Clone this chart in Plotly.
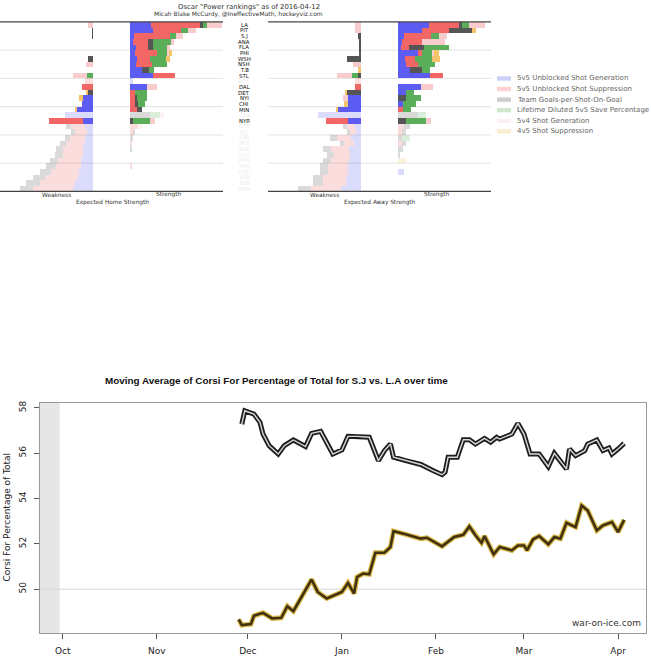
import plotly.graph_objects as go

W, H = 651, 659

def fx(px):
    return px / W

def fy(py):
    return 1 - py / H

# ---------------- top chart data ----------------
teams = ["LA", "PIT", "S.J", "ANA", "FLA", "PHI", "WSH", "NSH", "T.B", "STL",
         "BOS", "DAL", "DET", "NYI", "CHI", "MIN", "CAR", "NYR", "OTT", "N.J",
         "CBJ", "MTL", "BUF", "COL", "WPG", "ARI", "CGY", "VAN", "TOR", "EDM"]
in_playoffs = [1] * 10 + [0] + [1] * 5 + [0] + [1] + [0] * 12

components = ["5v5 Unblocked Shot Generation", "5v5 Unblocked Shot Suppression",
              "Team Goals-per-Shot-On-Goal", "Lifetime Diluted 5v5 Save Percentage",
              "5v4 Shot Generation", "4v5 Shot Suppression"]
comp_colors = ["#5c5cf2", "#f26666", "#555555", "#5aae5a", "#f8cccc", "#f5c36a"]

# Expected Home Strength -- strength side (per component, per team)
home_str_gen = [21, 23, 4, 3, 6, 5, 7, 6, 12, 23, 3, 17, 0, 0, 0, 0, 0, 0, 0, 0, 0, 0, 0, 0, 0, 0, 0, 0, 0, 0]
home_str_sup = [49, 28, 36, 15, 12, 22, 13, 16, 0, 22, 0, 0, 5, 5, 5, 7, 0, 0, 8, 3, 0, 2, 0, 0, 0, 2, 0, 0, 0, 0]
home_str_gps = [3, 0, 0, 5, 5, 0, 0, 0, 7, 0, 0, 0, 0, 2, 3, 5, 20, 3, 0, 2, 3, 0, 2, 0, 0, 0, 0, 0, 0, 0]
home_str_sv = [4, 7, 6, 18, 14, 10, 16, 15, 5, 0, 0, 0, 12, 10, 7, 0, 10, 17, 0, 0, 0, 0, 0, 0, 0, 0, 0, 0, 0, 0]
home_str_pp = [15, 8, 7, 3, 3, 2, 0, 0, 0, 0, 0, 10, 0, 0, 0, 0, 4, 5, 5, 0, 0, 0, 0, 0, 0, 0, 0, 0, 0, 0]
home_str_pk = [0, 0, 0, 0, 0, 3, 4, 0, 0, 0, 0, 0, 0, 0, 0, 0, 0, 0, 0, 0, 0, 0, 0, 0, 0, 0, 0, 0, 0, 0]

# Expected Home Strength -- weakness side
home_wk_gen = [0, 0, 0, 0, 0, 0, 0, 0, 0, 0, 0, 0, 0, 10, 11, 16, 28, 10, 8, 6, 8, 9, 10, 10, 12, 12, 14, 15, 18, 20]
home_wk_sup = [0, 0, 0, 0, 0, 0, 0, 0, 0, 0, 8, 11, 0, 0, 0, 0, 0, 34, 14, 12, 15, 18, 20, 20, 23, 25, 28, 33, 35, 40]
home_wk_gps = [0, 1, 1, 0, 0, 0, 5, 0, 0, 0, 0, 0, 5, 0, 0, 0, 0, 0, 5, 4, 5, 6, 7, 8, 8, 10, 11, 12, 14, 13]
home_wk_sv = [0, 0, 0, 0, 0, 0, 0, 0, 0, 6, 0, 0, 0, 0, 0, 0, 0, 0, 0, 0, 0, 0, 0, 0, 0, 0, 0, 0, 0, 0]
home_wk_pp = [5, 0, 0, 0, 0, 0, 0, 7, 0, 14, 0, 0, 0, 0, 0, 0, 0, 0, 0, 0, 0, 0, 0, 0, 0, 0, 0, 0, 0, 0]
home_wk_pk = [0, 0, 0, 0, 0, 0, 0, 0, 0, 0, 0, 0, 2, 4, 0, 2, 0, 0, 0, 0, 0, 0, 0, 0, 0, 0, 0, 0, 0, 0]

# Expected Away Strength -- strength side
away_str_gen = [31, 24, 6, 4, 3, 20, 7, 8, 12, 32, 0, 23, 8, 0, 5, 0, 0, 0, 0, 0, 0, 0, 0, 0, 0, 0, 6, 0, 0, 0]
away_str_sup = [30, 27, 27, 20, 8, 4, 10, 12, 0, 13, 0, 0, 0, 0, 0, 5, 0, 0, 6, 4, 0, 4, 0, 0, 0, 0, 0, 0, 0, 0]
away_str_gps = [3, 23, 0, 0, 15, 0, 0, 0, 12, 0, 0, 0, 0, 8, 0, 0, 20, 8, 6, 4, 4, 4, 5, 2, 0, 0, 0, 0, 0, 0]
away_str_sv = [7, 0, 8, 0, 25, 10, 17, 17, 8, 0, 0, 0, 8, 15, 13, 8, 8, 20, 0, 0, 8, 0, 0, 0, 0, 0, 0, 0, 0, 0]
away_str_pp = [16, 0, 8, 23, 0, 2, 0, 0, 0, 0, 0, 12, 0, 0, 0, 0, 0, 5, 0, 0, 0, 0, 0, 0, 0, 0, 0, 0, 0, 0]
away_str_pk = [0, 4, 0, 0, 0, 5, 8, 0, 0, 0, 0, 0, 0, 0, 0, 0, 0, 0, 0, 0, 0, 0, 0, 0, 8, 0, 0, 0, 0, 0]

# Expected Away Strength -- weakness side
away_wk_gen = [0, 0, 0, 0, 0, 0, 0, 0, 0, 0, 0, 0, 0, 13, 13, 23, 43, 13, 6, 5, 10, 7, 12, 11, 12, 13, 13, 15, 15, 20]
away_wk_sup = [0, 0, 0, 0, 0, 0, 0, 0, 0, 0, 6, 6, 0, 0, 0, 0, 0, 22, 8, 6, 14, 10, 18, 16, 18, 20, 20, 23, 23, 30]
away_wk_gps = [0, 0, 3, 2, 2, 2, 14, 0, 0, 3, 0, 0, 14, 0, 0, 0, 0, 0, 4, 3, 7, 4, 8, 7, 8, 8, 8, 10, 10, 13]
away_wk_sv = [0, 0, 0, 0, 0, 0, 0, 0, 0, 6, 0, 0, 0, 0, 0, 0, 0, 0, 0, 0, 0, 0, 0, 0, 0, 0, 0, 0, 0, 0]
away_wk_pp = [6, 6, 0, 0, 0, 0, 0, 8, 0, 15, 0, 0, 0, 5, 0, 0, 0, 0, 0, 0, 0, 0, 0, 0, 0, 0, 0, 0, 0, 0]
away_wk_pk = [0, 0, 0, 0, 0, 0, 0, 0, 3, 0, 0, 0, 2, 0, 4, 2, 0, 0, 0, 0, 0, 0, 0, 0, 0, 0, 0, 0, 0, 0]

panels = [
    ("x", [home_wk_gen, home_wk_sup, home_wk_gps, home_wk_sv, home_wk_pp, home_wk_pk]),
    ("x2", [home_str_gen, home_str_sup, home_str_gps, home_str_sv, home_str_pp, home_str_pk]),
    ("x3", [away_wk_gen, away_wk_sup, away_wk_gps, away_wk_sv, away_wk_pp, away_wk_pk]),
    ("x4", [away_str_gen, away_str_sup, away_str_gps, away_str_sv, away_str_pp, away_str_pk]),
]

# ---------------- bottom chart data ----------------
la_dates = ["2015-11-29", "2015-11-30", "2015-12-03", "2015-12-05", "2015-12-06", "2015-12-08",
            "2015-12-11", "2015-12-13", "2015-12-16", "2015-12-20", "2015-12-22", "2015-12-25",
            "2015-12-29", "2016-01-01", "2016-01-03", "2016-01-06", "2016-01-10", "2016-01-13",
            "2016-01-15", "2016-01-17", "2016-01-18", "2016-01-22", "2016-01-27", "2016-01-31",
            "2016-02-03", "2016-02-04", "2016-02-05", "2016-02-08", "2016-02-10", "2016-02-12",
            "2016-02-14", "2016-02-17", "2016-02-19", "2016-02-21", "2016-02-22", "2016-02-26",
            "2016-02-28", "2016-03-01", "2016-03-03", "2016-03-06", "2016-03-09", "2016-03-11",
            "2016-03-15", "2016-03-16", "2016-03-18", "2016-03-21", "2016-03-22", "2016-03-25",
            "2016-03-27", "2016-03-29", "2016-03-30", "2016-04-01", "2016-04-03"]
la_cf_pct = [57.28, 57.87, 57.72, 57.36, 56.84, 56.33, 55.96, 56.33, 56.58, 56.29, 56.87, 56.96,
             55.96, 56.14, 56.74, 56.74, 56.70, 55.67, 56.11, 56.40, 55.82, 55.67, 55.50, 55.23,
             55.05, 55.16, 55.82, 55.82, 56.59, 56.59, 56.40, 56.65, 56.48, 56.70, 56.62, 56.84,
             57.31, 56.84, 55.96, 55.96, 55.41, 55.99, 55.30, 56.18, 55.89, 56.11, 56.40, 56.58,
             56.11, 56.23, 55.96, 56.18, 56.43]

sj_dates = ["2015-11-28", "2015-11-29", "2015-12-02", "2015-12-03", "2015-12-06", "2015-12-09",
            "2015-12-12", "2015-12-14", "2015-12-16", "2015-12-22", "2015-12-24", "2015-12-27",
            "2016-01-01", "2016-01-03", "2016-01-05", "2016-01-06", "2016-01-08", "2016-01-10",
            "2016-01-12", "2016-01-15", "2016-01-17", "2016-01-18", "2016-01-22", "2016-01-27",
            "2016-01-29", "2016-02-03", "2016-02-07", "2016-02-10", "2016-02-12", "2016-02-14",
            "2016-02-16", "2016-02-17", "2016-02-20", "2016-02-22", "2016-02-26", "2016-02-28",
            "2016-03-01", "2016-03-02", "2016-03-04", "2016-03-06", "2016-03-09", "2016-03-11",
            "2016-03-13", "2016-03-15", "2016-03-18", "2016-03-20", "2016-03-22", "2016-03-25",
            "2016-03-27", "2016-03-30", "2016-04-01", "2016-04-03"]
sj_cf_pct = [48.67, 48.42, 48.46, 48.83, 48.96, 48.71, 48.74, 49.25, 49.03, 50.43, 49.88, 49.59,
             49.88, 50.28, 49.81, 50.54, 50.69, 50.66, 51.61, 51.61, 51.86, 52.56, 52.42, 52.23,
             52.27, 51.89, 52.30, 52.40, 52.77, 52.37, 52.05, 52.34, 51.54, 51.86, 51.71, 51.93,
             51.93, 51.71, 52.20, 52.34, 51.98, 52.30, 52.23, 52.93, 52.74, 53.69, 53.47, 52.59,
             52.81, 52.96, 52.52, 53.06]

month_ticks = ["2015-10-01", "2015-11-01", "2015-12-01", "2016-01-01", "2016-02-01", "2016-03-01", "2016-04-01"]
month_labels = ["Oct", "Nov", "Dec", "Jan", "Feb", "Mar", "Apr"]
y_ticks = [50, 52, 54, 56, 58]

FONT = "DejaVu Sans"

fig = go.Figure()

# ---------- bars ----------
opac = [1.0 if p else 0.22 for p in in_playoffs]
for xa, series in panels:
    for ci, vals in enumerate(series):
        fig.add_trace(go.Bar(
            y=teams, x=vals, orientation="h", xaxis=xa, yaxis="y",
            marker=dict(color=comp_colors[ci], opacity=opac, line=dict(width=0)),
            name=components[ci], showlegend=False, hoverinfo="skip"))

# ---------- lines ----------
fig.add_trace(go.Scatter(x=la_dates, y=la_cf_pct, xaxis="x5", yaxis="y2", mode="lines",
                         line=dict(color="#1e1e1e", width=5), showlegend=False, hoverinfo="skip"))
fig.add_trace(go.Scatter(x=la_dates, y=la_cf_pct, xaxis="x5", yaxis="y2", mode="lines",
                         line=dict(color="#d8d8d8", width=1.4), showlegend=False, hoverinfo="skip"))
fig.add_trace(go.Scatter(x=sj_dates, y=sj_cf_pct, xaxis="x5", yaxis="y2", mode="lines",
                         line=dict(color="#dcb848", width=5), showlegend=False, hoverinfo="skip"))
fig.add_trace(go.Scatter(x=sj_dates, y=sj_cf_pct, xaxis="x5", yaxis="y2", mode="lines",
                         line=dict(color="#3e3210", width=2.6), showlegend=False, hoverinfo="skip"))

hidden = dict(visible=False, fixedrange=True)
layout = dict(
    width=W, height=H, margin=dict(l=0, r=0, t=0, b=0),
    paper_bgcolor="white", plot_bgcolor="white",
    barmode="stack", bargap=0, showlegend=False,
    font=dict(family=FONT, color="#222"),
    xaxis=dict(domain=[fx(0), fx(93)], range=[93, 0], anchor="y", **hidden),
    xaxis2=dict(domain=[fx(130), fx(223)], range=[0, 93], anchor="y", **hidden),
    xaxis3=dict(domain=[fx(268), fx(361)], range=[93, 0], anchor="y", **hidden),
    xaxis4=dict(domain=[fx(398), fx(491)], range=[0, 93], anchor="y", **hidden),
    yaxis=dict(domain=[fy(190), fy(20)], type="category", categoryorder="array",
               categoryarray=teams, range=[29.5, -0.5], anchor="x", **hidden),
    xaxis5=dict(domain=[fx(40), fx(646)], anchor="y2", type="date",
                range=["2015-09-23 12:00", "2016-04-10 05:00"],
                tickmode="array", tickvals=month_ticks, ticktext=month_labels,
                ticks="outside", ticklen=5, tickcolor="#555", showgrid=False, zeroline=False,
                showline=True, linecolor="#999", mirror=True, ticklabelstandoff=4,
                tickfont=dict(size=9, color="#222"), fixedrange=True),
    yaxis2=dict(domain=[fy(633), fy(402)], anchor="x5", range=[48.066, 58.22],
                tickmode="array", tickvals=y_ticks, tickangle=-90,
                ticks="outside", ticklen=5, tickcolor="#555", showgrid=False, zeroline=False,
                showline=True, linecolor="#999", mirror=True, ticklabelstandoff=4,
                tickfont=dict(size=9, color="#222"), fixedrange=True),
)
fig.update_layout(**layout)

shapes = []
# panel frame lines (top and bottom)
for (a, b) in [(0, 223), (268, 491)]:
    for yy in (20, 190):
        shapes.append(dict(type="line", xref="paper", yref="paper", x0=fx(a), x1=fx(b),
                           y0=fy(yy), y1=fy(yy), line=dict(color="#444", width=1.2)))
    for g in (4.5, 9.5, 14.5, 19.5, 24.5):
        shapes.append(dict(type="line", xref="paper", yref="y", x0=fx(a), x1=fx(b),
                           y0=g, y1=g, line=dict(color="#dcdcdc", width=0.8), layer="below"))
# legend swatches
leg_y = [76.7, 87.3, 97.9, 108.5, 119.1, 129.7]
for ci, yy in enumerate(leg_y):
    shapes.append(dict(type="rect", xref="paper", yref="paper", x0=fx(497), x1=fx(511),
                       y0=fy(yy + 2.2), y1=fy(yy - 2.2), fillcolor=comp_colors[ci],
                       opacity=0.3, line=dict(width=0)))
# bottom chart: pre-season band and 50% line
shapes.append(dict(type="rect", xref="x5", yref="y2 domain", x0="2015-09-23 12:00", x1="2015-09-30",
                   y0=0, y1=1, fillcolor="#e6e6e6", line=dict(width=0), layer="below"))
shapes.append(dict(type="line", xref="x5 domain", yref="y2", x0=0, x1=1, y0=50, y1=50,
                   line=dict(color="#d8d8d8", width=1), layer="below"))
fig.update_layout(shapes=shapes)


def note(text, px, py, size, color="#333", xanchor="center", **kw):
    return dict(text=text, x=fx(px), y=fy(py), xref="paper", yref="paper", showarrow=False,
                xanchor=xanchor, yanchor="middle", font=dict(size=size, color=color, **kw.pop("font", {})), **kw)


ann = []
# top titles
ann.append(note('Oscar "Power rankings" as of 2016-04-12', 249, 5, 6.9))
ann.append(note("Micah Blake McCurdy, @IneffectiveMath, hockeyviz.com", 238, 12.5, 6.0))
# team labels
for t, p in zip(teams, in_playoffs):
    ann.append(dict(text=t, x=fx(244), y=t, xref="paper", yref="y", showarrow=False,
                    xanchor="center", yanchor="middle",
                    font=dict(size=5.4, color="#111" if p else "#ececec")))
# panel labels
for off, side in [(0, "Home"), (268, "Away")]:
    ann.append(note("Weakness", off + 56, 193.5, 5.8))
    ann.append(note("Strength", off + 168, 193.5, 5.8))
    ann.append(note("Expected %s Strength" % side, off + 112, 201, 5.8))
# legend labels
for ci, yy in enumerate(leg_y):
    ann.append(note(components[ci], 515, yy, 7, color="#666", xanchor="left"))
# bottom chart texts
ann.append(note("<b>Moving Average of Corsi For Percentage of Total for S.J vs. L.A over time</b>",
                276, 380, 9.9, color="#111", font=dict(family="Liberation Sans")))
ann.append(note("Corsi For Percentage of Total", 7, 517, 9, color="#222", textangle=-90))
ann.append(note("war-on-ice.com", 643, 623, 9, color="#333", xanchor="right"))
fig.update_layout(annotations=ann)

fig.write_html("out.html", config={"displayModeBar": False},
               post_script="document.body.style.margin='0px';")
